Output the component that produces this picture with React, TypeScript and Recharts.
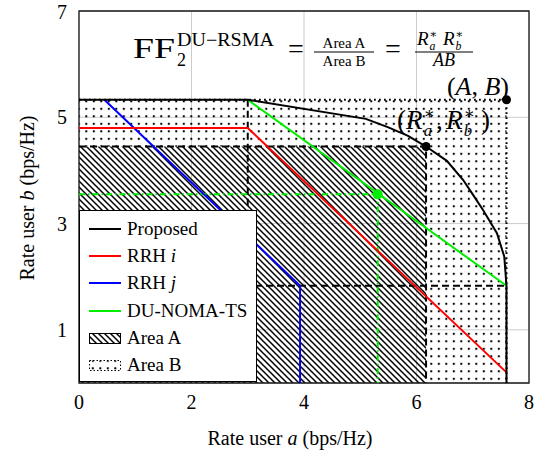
import React from 'react'
import {
  ComposedChart,
  Line,
  XAxis,
  YAxis,
  CartesianGrid,
  ReferenceArea,
  ReferenceDot,
  Legend,
} from 'recharts'

const FONT = '"Liberation Serif", "DejaVu Serif", serif'

const xTicks = [0, 2, 4, 6, 8]
const yTicks = [1, 3, 5, 7]

// rate regions (bps/Hz)
const proposed = [
  { x: 0, y: 5.33 },
  { x: 3, y: 5.33 },
  { x: 5.1, y: 4.97 },
  { x: 5.5, y: 4.81 },
  { x: 5.85, y: 4.65 },
  { x: 6.17, y: 4.45 },
  { x: 6.54, y: 4.18 },
  { x: 6.83, y: 3.82 },
  { x: 7.0, y: 3.55 },
  { x: 7.18, y: 3.26 },
  { x: 7.43, y: 2.82 },
  { x: 7.56, y: 2.38 },
  { x: 7.6, y: 1.83 },
  { x: 7.6, y: 0 },
]
const rrhI = [
  { x: 0, y: 4.8 },
  { x: 3, y: 4.8 },
  { x: 7.6, y: 0.2 },
]
const rrhJ = [
  { x: 0.45, y: 5.33 },
  { x: 3.93, y: 1.83 },
  { x: 3.93, y: 0 },
]
const duNoma = [
  { x: 3, y: 5.33 },
  { x: 7.6, y: 1.83 },
]
const duNomaGuide = [
  { x: 0, y: 3.55 },
  { x: 5.31, y: 3.55 },
  { x: 5.31, y: 0 },
]
const areaAGuide = [
  { x: 0, y: 4.45 },
  { x: 6.17, y: 4.45 },
  { x: 6.17, y: 0 },
]
const cornerGuide = [
  { x: 3, y: 5.33 },
  { x: 3, y: 0 },
]
const floorGuide = [
  { x: 0, y: 1.83 },
  { x: 7.6, y: 1.83 },
]
const areaBEdge = [
  { x: 0, y: 5.33 },
  { x: 7.6, y: 5.33 },
  { x: 7.6, y: 0 },
]

const optPoint = { x: 6.17, y: 4.45 }
const maxPoint = { x: 7.6, y: 5.33 }
const nomaPoint = { x: 5.31, y: 3.55 }

const legendItems = [
  { name: 'Proposed', sub: '', color: '#000', kind: 'line' },
  { name: 'RRH ', sub: 'i', color: '#ff0000', kind: 'line' },
  { name: 'RRH ', sub: 'j', color: '#0000ff', kind: 'line' },
  { name: 'DU-NOMA-TS', sub: '', color: '#00ee00', kind: 'line' },
  { name: 'Area A', sub: '', color: '#000', kind: 'hatch' },
  { name: 'Area B', sub: '', color: '#000', kind: 'dots' },
]

function ChartLegend() {
  return (
    <div
      style={{
        width: 178,
        height: 172,
        background: '#fff',
        border: '1px solid #000',
        fontFamily: FONT,
        fontSize: 19,
        paddingTop: 4,
        boxSizing: 'border-box',
      }}
    >
      {legendItems.map((it) => (
        <div key={it.name + it.sub} style={{ height: 27.3, display: 'flex', alignItems: 'center' }}>
          <svg width={46} height={16} style={{ marginLeft: 9, flex: 'none' }}>
            {it.kind === 'line' && <line x1={0} y1={8} x2={32} y2={8} stroke={it.color} strokeWidth={2} />}
            {it.kind === 'hatch' && (
              <rect x={0.5} y={3.5} width={31} height={10} fill="url(#hatchA)" stroke="#000" strokeWidth={1} />
            )}
            {it.kind === 'dots' && (
              <rect x={0.5} y={3.5} width={31} height={10} fill="url(#dotsB)" stroke="#000" strokeWidth={1} strokeDasharray="1.5 2" />
            )}
          </svg>
          <span style={{ marginLeft: -8 }}>
            {it.name}
            {it.sub && <i>{it.sub}</i>}
          </span>
        </div>
      ))}
    </div>
  )
}

function XLabel({ viewBox }: any) {
  return (
    <text x={290} y={viewBox.y + 62} textAnchor="middle" style={{ fontFamily: FONT }} fontSize={20} fill="#000">
      Rate user <tspan fontStyle="italic">a</tspan> (bps/Hz)
    </text>
  )
}

function YLabel() {
  return (
    <text x={34} y={198} transform="rotate(-90 34 198)" textAnchor="middle" style={{ fontFamily: FONT }} fontSize={20} fill="#000">
      Rate user <tspan fontStyle="italic">b</tspan> (bps/Hz)
    </text>
  )
}

// R with a star on top and a subscript, as separate pieces
function RStar({ x, y, size, sub }: { x: number; y: number; size: number; sub: string }) {
  const s = size * 0.62
  const off = size * 0.66
  return (
    <g>
      <text x={x} y={y} fontSize={size} fontStyle="italic">R</text>
      <text x={x + off} y={y - size * 0.38} fontSize={s}>∗</text>
      <text x={x + off} y={y + size * 0.26} fontSize={s} fontStyle="italic">{sub}</text>
    </g>
  )
}

export default function App() {
  const W = 546
  const H = 458
  return (
    <div style={{ position: 'absolute', left: 0, top: 0, width: W, height: H, background: '#fff', fontFamily: FONT }}>
      <svg width={0} height={0} style={{ position: 'absolute' }}>
        <defs>
          <pattern id="hatchA" patternUnits="userSpaceOnUse" width={6} height={6}>
            <path d="M-1,-1 L7,7 M-1,5 L1,7 M5,-1 L7,1" stroke="#000" strokeWidth={1.5} />
          </pattern>
          <pattern id="dotsB" patternUnits="userSpaceOnUse" width={7.5} height={7.5}>
            <rect x={2.8} y={2.8} width={2} height={2} fill="#000" />
          </pattern>
        </defs>
      </svg>
      <ComposedChart width={W} height={H} margin={{ top: 11, right: 17, bottom: 0, left: 0 }} style={{ fontFamily: FONT }}>
        <CartesianGrid stroke="#cccccc" strokeWidth={1} />
        <XAxis
          dataKey="x"
          type="number"
          domain={[0, 8]}
          ticks={xTicks}
          allowDataOverflow
          height={75}
          tickLine={false}
          axisLine={false}
          tickSize={0}
          tickMargin={12}
          tick={{ fontSize: 20, fill: '#000', fontFamily: FONT, style: { fontFamily: FONT } }}
          label={<XLabel />}
        />
        <YAxis
          dataKey="y"
          type="number"
          domain={[0, 7]}
          ticks={yTicks}
          allowDataOverflow
          width={79}
          tickLine={false}
          axisLine={false}
          tickSize={0}
          tickMargin={12}
          tick={{ fontSize: 20, fill: '#000', fontFamily: FONT, style: { fontFamily: FONT } }}
          label={<YLabel />}
        />
        {/* Area B without the part covered by Area A */}
        <ReferenceArea x1={areaAGuide[1].x} x2={maxPoint.x} y1={0} y2={maxPoint.y} fill="url(#dotsB)" fillOpacity={1} stroke="none" />
        <ReferenceArea x1={0} x2={areaAGuide[1].x} y1={optPoint.y} y2={maxPoint.y} fill="url(#dotsB)" fillOpacity={1} stroke="none" />
        <ReferenceArea x1={0} x2={optPoint.x} y1={0} y2={optPoint.y} fill="url(#hatchA)" fillOpacity={1} stroke="none" />
        <ReferenceArea x1={0} x2={8} y1={0} y2={7} fill="none" stroke="#1a1a1a" strokeWidth={1.3} />

        <Line data={areaBEdge} dataKey="y" stroke="#000" strokeWidth={2} strokeDasharray="1.8 3.2" dot={false} isAnimationActive={false} />
        <Line data={cornerGuide} dataKey="y" stroke="#000" strokeWidth={2} strokeDasharray="7 4" dot={false} isAnimationActive={false} />
        <Line data={floorGuide} dataKey="y" stroke="#000" strokeWidth={2} strokeDasharray="7 4" dot={false} isAnimationActive={false} />
        <Line data={areaAGuide} dataKey="y" stroke="#000" strokeWidth={2} strokeDasharray="7 4" dot={false} isAnimationActive={false} />
        <Line data={duNomaGuide} dataKey="y" stroke="#00ee00" strokeWidth={2} strokeDasharray="6 3 1.5 3" dot={false} isAnimationActive={false} />
        <Line data={rrhJ} dataKey="y" stroke="#0000ff" strokeWidth={2} dot={false} isAnimationActive={false} />
        <Line data={rrhI} dataKey="y" stroke="#ff0000" strokeWidth={2} dot={false} isAnimationActive={false} />
        <Line data={duNoma} dataKey="y" stroke="#00ee00" strokeWidth={2} dot={false} isAnimationActive={false} />
        <Line data={proposed} dataKey="y" stroke="#000" strokeWidth={2} dot={false} isAnimationActive={false} />

        <ReferenceDot x={nomaPoint.x} y={nomaPoint.y} r={5} fill="#00ee00" stroke="none" />
        <ReferenceDot x={optPoint.x} y={optPoint.y} r={4.5} fill="#000" stroke="none" />
        <ReferenceDot x={maxPoint.x} y={maxPoint.y} r={4.5} fill="#000" stroke="none" />

        <Legend
          layout="horizontal"
          verticalAlign="middle"
          align="center"
          content={<ChartLegend />}
          wrapperStyle={{ left: 79, top: 210, width: 178, height: 172 }}
        />
      </ComposedChart>

      {/* formula and point annotations */}
      <svg
        width={W}
        height={H}
        style={{ position: 'absolute', left: 0, top: 0, pointerEvents: 'none', fontFamily: FONT }}
        fill="#000"
      >
        <text x={133} y={58} fontSize={29} textLength={42} lengthAdjust="spacingAndGlyphs">FF</text>
        <text x={177} y={66} fontSize={18}>2</text>
        <text x={177} y={46} fontSize={18} textLength={97} lengthAdjust="spacingAndGlyphs">DU−RSMA</text>
        <text x={296} y={58} fontSize={28} textAnchor="middle">=</text>
        <text x={344} y={48} fontSize={15} textAnchor="middle">Area A</text>
        <line x1={314} y1={52} x2={374} y2={52} stroke="#000" strokeWidth={1} />
        <text x={344} y={66} fontSize={15} textAnchor="middle">Area B</text>
        <text x={393} y={58} fontSize={28} textAnchor="middle">=</text>
        <RStar x={417} y={45} size={19} sub="a" />
        <RStar x={443} y={45} size={19} sub="b" />
        <line x1={415} y1={52} x2={473} y2={52} stroke="#000" strokeWidth={1} />
        <text x={444} y={66} fontSize={18} fontStyle="italic" textAnchor="middle">AB</text>

        <text x={509} y={95} fontSize={26} textAnchor="end">
          (<tspan fontStyle="italic">A</tspan>, <tspan fontStyle="italic">B</tspan>)
        </text>
        <text x={397} y={129} fontSize={27}>(</text>
        <RStar x={406} y={129} size={27} sub="a" />
        <text x={436} y={129} fontSize={27}>,</text>
        <RStar x={446} y={129} size={27} sub="b" />
        <text x={481} y={129} fontSize={27}>)</text>
      </svg>
    </div>
  )
}
